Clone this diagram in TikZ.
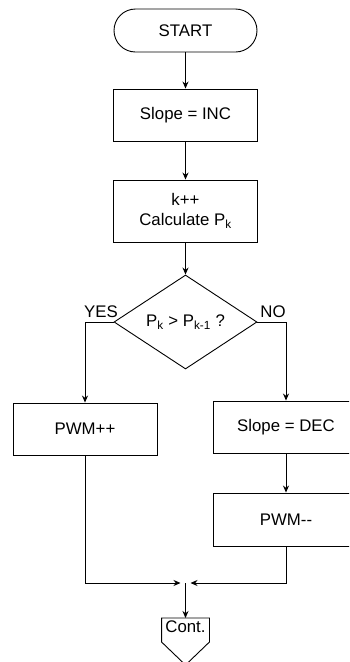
\documentclass[tikz,border=0pt]{standalone}
\usepackage{fontspec}
\setmainfont{Liberation Sans}
\usetikzlibrary{shapes.geometric,arrows.meta}

\begin{document}
\begin{tikzpicture}[x=1pt, y=-1pt, line width=0.9pt,
  font=\fontsize{16.8}{20}\selectfont,
  box/.style={draw, rectangle, minimum width=144pt, minimum height=52pt, inner sep=0pt, align=center},
  arr/.style={-{Stealth[length=7pt,width=6pt]}}]

\useasboundingbox (0,0) rectangle (349,662);
\clip (0,0) rectangle (349,662);

\node[draw, rounded corners=21.5pt, minimum width=143pt, minimum height=43pt] (start) at (185.5,30.5) {START};
\node[box] (inc) at (185.5,115) {Slope = INC};
\node[box, minimum height=62pt] (calc) at (185.5,211) {k++\\Calculate P\textsubscript{k}};
\node[draw, diamond, aspect=1.5, minimum width=143pt, minimum height=94pt, inner sep=0pt] (cmp) at (185.5,322) {P\textsubscript{k} > P\textsubscript{k-1} ?};

\node[box] (pwminc) at (85,429) {PWM++};
\node[box, minimum width=146pt] (dec) at (286,427) {Slope = DEC};
\node[box, minimum width=146pt, minimum height=53pt] (pwmdec) at (286,519.5) {PWM\mbox{-}\mbox{-}};

\node (yes) at (101,312) {YES};
\node (no) at (273,312) {NO};

\coordinate (join) at (185.5,583);
\node[minimum width=47pt, anchor=north, inner sep=2pt] (cont) at (185.5,618) {Cont.};

\draw[arr] (start.south) -- (inc.north);
\draw[arr] (inc.south) -- (calc.north);
\draw[arr] (calc.south) -- (cmp.north);

\draw[arr] (cmp.west) -| (pwminc.north);
\draw[arr] (cmp.east) -| (dec.north);
\draw[arr] (dec.south) -- (pwmdec.north);

\draw[arr] (pwminc.south) |- ([xshift=-5pt]join);
\draw[arr] (pwmdec.south) |- ([xshift=5pt]join);
\draw[arr] (join) -- (cont.north);

\draw (cont.north west) -- (cont.north east) -- ++(0,24) -- (185.5,665) -- ([yshift=-24pt]cont.north west) -- cycle;

\end{tikzpicture}
\end{document}
